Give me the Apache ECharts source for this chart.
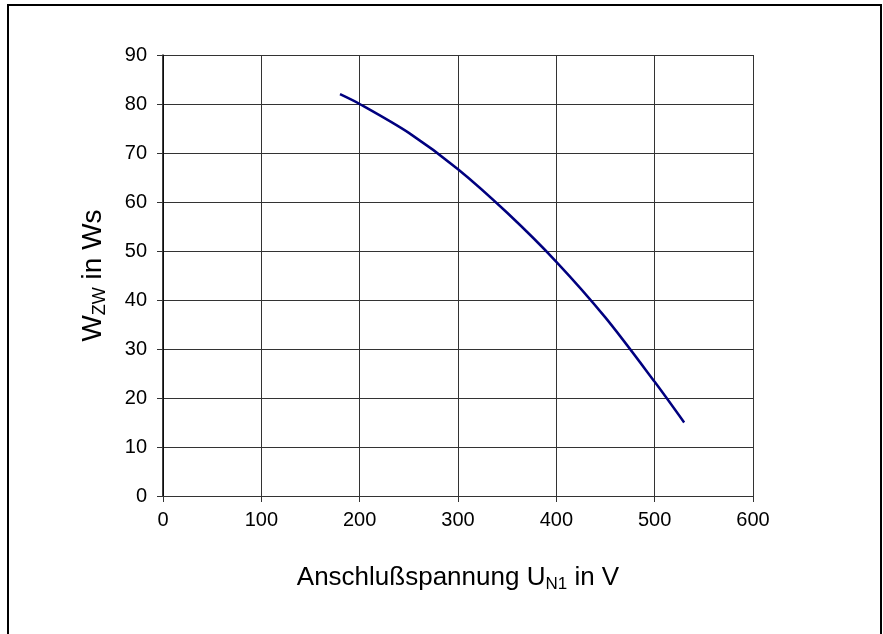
<!DOCTYPE html>
<html lang="de">
<head>
    <meta charset="UTF-8">
    <title>Bremsenergie</title>
    <script src="https://cdn.jsdelivr.net/npm/echarts@6/dist/echarts.min.js"></script>
    <style>
        html, body { margin: 0; padding: 0; background: #fff; }
        #main { width: 883px; height: 634px; }
    </style>
</head>
<body>
<div id="main"></div>
<script type="text/javascript">
    // Anschlussspannung in V / Energie in Ws
    var spannung = [180, 200, 250, 300, 350, 400, 450, 500, 530];
    var energie  = [82, 80, 74.1, 66.7, 57.8, 47.8, 36.4, 23.3, 15];
    var xTicks = [0, 100, 200, 300, 400, 500, 600];
    var yTicks = [0, 10, 20, 30, 40, 50, 60, 70, 80, 90];

    var font = 'Liberation Sans, Arial, sans-serif';
    var myChart = echarts.init(document.getElementById('main'));

    myChart.setOption({
        animation: false,
        backgroundColor: '#fff',
        graphic: [{
            type: 'rect',
            shape: { x: 8, y: 5, width: 873, height: 640 },
            style: { fill: 'none', stroke: '#000', lineWidth: 2 }
        }],
        grid: { left: 163, right: 130, top: 55, bottom: 138 },
        xAxis: {
            type: 'value',
            min: xTicks[0],
            max: xTicks[xTicks.length - 1],
            interval: 100,
            name: '{a|Anschlußspannung U}{sub|N1}{a| in V}',
            nameLocation: 'middle',
            nameGap: 67,
            nameTextStyle: {
                rich: {
                    a: { fontFamily: font, fontSize: 26, color: '#000' },
                    sub: { fontFamily: font, fontSize: 17, color: '#000', padding: [13, 0, 0, 0] }
                }
            },
            axisLine: { show: true, lineStyle: { color: '#333', width: 1 } },
            axisTick: { show: true, length: 6, lineStyle: { color: '#333' } },
            axisLabel: { fontFamily: font, fontSize: 20, color: '#000', margin: 14 },
            splitLine: { show: true, lineStyle: { color: '#333', width: 1 } }
        },
        yAxis: {
            type: 'value',
            min: yTicks[0],
            max: yTicks[yTicks.length - 1],
            interval: 10,
            name: '{a|W}{sub|ZW}{a| in Ws}',
            nameLocation: 'middle',
            nameRotate: 90,
            nameGap: 54,
            nameTextStyle: {
                rich: {
                    a: { fontFamily: font, fontSize: 28, color: '#000' },
                    sub: { fontFamily: font, fontSize: 18, color: '#000', padding: [14, 0, 0, 0] }
                }
            },
            axisLine: { show: true, lineStyle: { color: '#000', width: 1.5 } },
            axisTick: { show: true, length: 6, lineStyle: { color: '#333' } },
            axisLabel: { fontFamily: font, fontSize: 20, color: '#000', margin: 16 },
            splitLine: { show: true, lineStyle: { color: '#333', width: 1 } }
        },
        series: [{
            type: 'line',
            data: spannung.map(function (u, i) { return [u, energie[i]]; }),
            smooth: 0.3,
            showSymbol: false,
            lineStyle: { color: '#00007f', width: 2.5 }
        }]
    });
</script>
</body>
</html>
